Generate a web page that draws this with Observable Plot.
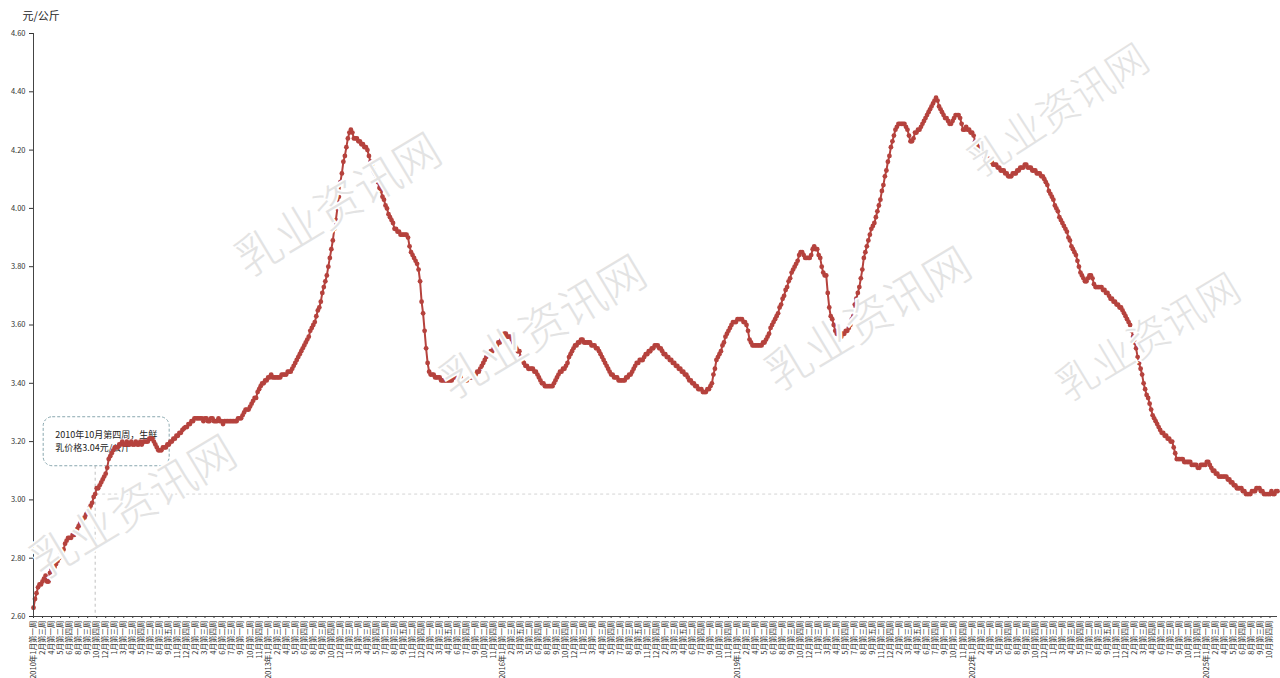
<!DOCTYPE html>
<html>
<head>
<meta charset="utf-8">
<script src="https://cdn.jsdelivr.net/npm/d3@7"></script>
<script src="https://cdn.jsdelivr.net/npm/@observablehq/plot@0.6"></script>
<style>
  html, body { margin: 0; padding: 0; background: #fff; }
  #wrap { position: relative; width: 1280px; height: 678px; overflow: hidden; }
  #wm { position: absolute; left: 0; top: 0; pointer-events: none; }
</style>
</head>
<body>
<div id="wrap"><div id="chart"></div></div>
<script>
// ---- data: weekly raw milk price (元/公斤) ----
const v2010 = [2.63,2.66,2.68,2.70,2.71,2.71,2.72,2.73,2.74,2.72, 2.72,2.75,2.76,2.77,2.77,2.78,2.79,2.80,2.81,2.82, 2.83,2.85,2.86,2.87,2.87,2.87,2.88,2.88,2.89,2.90, 2.91,2.92,2.93,2.935,2.94,2.95,2.96,2.97,2.98,2.99, 3.01,3.02,3.04,3.04,3.05,3.06,3.07,3.08,3.09,3.11, 3.14,3.15];
const v2011 = [3.16,3.17,3.18,3.18,3.18,3.19,3.19,3.20,3.19,3.19, 3.20,3.19,3.19,3.20,3.19,3.19,3.20,3.19,3.19,3.20, 3.19,3.20,3.20,3.20,3.20,3.21,3.21,3.21,3.20,3.19, 3.18,3.17,3.17,3.17,3.18,3.18,3.18,3.19,3.19,3.20, 3.20,3.21,3.21,3.22,3.22,3.23,3.23,3.24,3.245,3.25, 3.25,3.26];
const v2012 = [3.26,3.27,3.27,3.28,3.28,3.28,3.28,3.28,3.28,3.27, 3.28,3.28,3.27,3.27,3.28,3.28,3.27,3.27,3.27,3.28, 3.27,3.27,3.26,3.27,3.27,3.27,3.27,3.27,3.27,3.27, 3.27,3.27,3.28,3.28,3.28,3.29,3.30,3.31,3.31,3.31, 3.32,3.33,3.34,3.35,3.35,3.37,3.38,3.39,3.40,3.40, 3.41,3.41];
const v2013 = [3.42,3.42,3.43,3.42,3.42,3.42,3.42,3.42,3.42,3.43, 3.43,3.43,3.43,3.44,3.44,3.44,3.45,3.46,3.47,3.48, 3.49,3.50,3.51,3.52,3.53,3.54,3.55,3.56,3.58,3.59, 3.60,3.61,3.63,3.65,3.66,3.68,3.71,3.73,3.75,3.77, 3.80,3.83,3.86,3.89,3.93,3.96,4.00,4.04,4.09,4.12, 4.16,4.18];
const v2014 = [4.21,4.24,4.26,4.27,4.26,4.24,4.24,4.24,4.23,4.23, 4.22,4.22,4.21,4.21,4.20,4.18,4.16,4.15,4.13,4.12, 4.10,4.09,4.07,4.06,4.04,4.03,4.01,4.00,3.98,3.97, 3.96,3.95,3.93,3.93,3.92,3.92,3.91,3.91,3.91,3.91, 3.91,3.90,3.87,3.85,3.84,3.83,3.82,3.81,3.79,3.75, 3.68,3.64];
const v2015 = [3.58,3.52,3.47,3.44,3.43,3.43,3.43,3.42,3.42,3.42, 3.42,3.41,3.41,3.41,3.41,3.41,3.41,3.41,3.41,3.42, 3.42,3.42,3.42,3.42,3.42,3.41,3.41,3.41,3.41,3.42, 3.42,3.42,3.42,3.43,3.43,3.44,3.44,3.45,3.46,3.47, 3.48,3.49,3.50,3.50,3.51,3.51,3.52,3.53,3.53,3.54, 3.54,3.55];
const v2016 = [3.56,3.57,3.57,3.56,3.56,3.56,3.55,3.54,3.53,3.52, 3.51,3.51,3.49,3.48,3.47,3.46,3.46,3.45,3.45,3.45, 3.45,3.44,3.44,3.43,3.42,3.41,3.40,3.40,3.39,3.39, 3.39,3.39,3.39,3.39,3.40,3.41,3.42,3.43,3.44,3.44, 3.45,3.45,3.46,3.47,3.49,3.50,3.51,3.52,3.53,3.53, 3.54,3.54];
const v2017 = [3.55,3.55,3.54,3.54,3.54,3.54,3.54,3.53,3.53,3.53, 3.52,3.52,3.51,3.50,3.49,3.48,3.47,3.46,3.45,3.44, 3.43,3.43,3.42,3.42,3.42,3.41,3.41,3.41,3.41,3.41, 3.42,3.42,3.43,3.43,3.44,3.45,3.46,3.47,3.47,3.48, 3.48,3.48,3.49,3.50,3.50,3.51,3.51,3.52,3.52,3.53, 3.53,3.53];
const v2018 = [3.52,3.52,3.51,3.50,3.50,3.49,3.49,3.48,3.48,3.47, 3.47,3.46,3.46,3.45,3.45,3.44,3.44,3.43,3.43,3.42, 3.41,3.41,3.40,3.40,3.39,3.39,3.38,3.38,3.38,3.37, 3.37,3.37,3.38,3.38,3.39,3.40,3.43,3.45,3.48,3.49, 3.50,3.51,3.53,3.54,3.56,3.57,3.58,3.59,3.60,3.61, 3.61,3.61];
const v2019 = [3.62,3.62,3.62,3.62,3.61,3.61,3.60,3.58,3.55,3.54, 3.53,3.53,3.53,3.53,3.53,3.53,3.53,3.54,3.54,3.55, 3.56,3.57,3.59,3.60,3.61,3.62,3.63,3.64,3.66,3.67, 3.69,3.70,3.72,3.73,3.75,3.76,3.78,3.79,3.80,3.81, 3.82,3.84,3.85,3.85,3.84,3.83,3.83,3.83,3.83,3.84, 3.86,3.87];
const v2020 = [3.86,3.86,3.84,3.83,3.80,3.78,3.77,3.77,3.71,3.66, 3.63,3.62,3.60,3.58,3.57,3.57,3.56,3.56,3.57,3.57, 3.58,3.58,3.59,3.60,3.62,3.63,3.67,3.69,3.71,3.73, 3.76,3.79,3.83,3.85,3.87,3.89,3.91,3.93,3.94,3.95, 3.97,3.99,4.01,4.03,4.06,4.08,4.11,4.13,4.16,4.18, 4.21,4.23];
const v2021 = [4.25,4.27,4.28,4.29,4.29,4.29,4.29,4.29,4.28,4.27, 4.25,4.23,4.23,4.24,4.26,4.26,4.27,4.27,4.28,4.29, 4.30,4.31,4.32,4.33,4.34,4.35,4.36,4.37,4.38,4.37, 4.35,4.34,4.33,4.32,4.31,4.31,4.30,4.29,4.29,4.30, 4.31,4.32,4.32,4.32,4.31,4.29,4.27,4.27,4.28,4.27, 4.27,4.26];
const v2022 = [4.26,4.25,4.23,4.22,4.21,4.21,4.20,4.19,4.18,4.18, 4.17,4.17,4.16,4.16,4.15,4.15,4.15,4.14,4.14,4.13, 4.13,4.13,4.12,4.12,4.11,4.11,4.11,4.12,4.12,4.12, 4.13,4.13,4.14,4.14,4.14,4.15,4.15,4.14,4.14,4.14, 4.13,4.13,4.13,4.12,4.12,4.12,4.11,4.11,4.10,4.09, 4.08,4.06];
const v2023 = [4.05,4.04,4.03,4.01,4.00,3.99,3.97,3.96,3.95,3.94, 3.93,3.92,3.90,3.89,3.87,3.86,3.85,3.84,3.82,3.80, 3.78,3.77,3.76,3.75,3.75,3.76,3.77,3.77,3.76,3.74, 3.73,3.73,3.73,3.73,3.73,3.72,3.72,3.71,3.71,3.70, 3.69,3.69,3.68,3.68,3.67,3.67,3.66,3.66,3.65,3.64, 3.63,3.62];
const v2024 = [3.61,3.60,3.58,3.56,3.54,3.52,3.49,3.47,3.45,3.43, 3.40,3.38,3.36,3.35,3.33,3.31,3.29,3.28,3.27,3.26, 3.25,3.24,3.23,3.23,3.22,3.22,3.21,3.21,3.20,3.20, 3.18,3.16,3.14,3.14,3.14,3.14,3.14,3.13,3.13,3.13, 3.13,3.13,3.12,3.12,3.12,3.12,3.11,3.11,3.12,3.12, 3.12,3.12];
const v2025 = [3.13,3.13,3.12,3.11,3.10,3.10,3.09,3.09,3.08,3.08, 3.08,3.08,3.08,3.08,3.07,3.07,3.06,3.06,3.05,3.05, 3.04,3.04,3.04,3.04,3.03,3.03,3.02,3.02,3.02,3.02, 3.03,3.03,3.03,3.04,3.04,3.04,3.03,3.03,3.02,3.02, 3.02,3.02,3.02,3.03,3.02,3.02,3.03,3.03];

const years = [2010,2011,2012,2013,2014,2015,2016,2017,2018,2019,2020,2021,2022,2023,2024,2025];
const yearValues = [v2010,v2011,v2012,v2013,v2014,v2015,v2016,v2017,v2018,v2019,v2020,v2021,v2022,v2023,v2024,v2025];
const weekNames = ["一","二","三","四","五"];
const yTicks = [2.6,2.8,3.0,3.2,3.4,3.6,3.8,4.0,4.2,4.4,4.6];
const unitTitle = "元/公斤";
const annText = ["2010年10月第四周，生鲜", "乳价格3.04元/公斤"];
const annIndex = 42;      // 2010年10月第四周
const annValue = 3.04;
const refLevel = 3.02;    // dashed reference level
const tickEvery = 6;
const lineColor = "#b5423d";

// ---- build weekly table + week labels ----
const data = [];
const labels = [];
years.forEach((yr, yi) => {
  yearValues[yi].forEach((v, k) => {
    const d = new Date(yr, 0, 7 + 7 * k);
    const m = d.getMonth() + 1;
    const w = Math.min(5, Math.ceil(d.getDate() / 7));
    labels.push((k === 0 ? yr + "年" : "") + m + "月第" + weekNames[w - 1] + "周");
    data.push({i: data.length, v});
  });
});
const N = data.length;
const xTicks = d3.range(0, N, tickEvery);

function annotation(index, scales, values, dimensions) {
  const px = scales.x(annIndex), py = scales.y(annValue);
  const g = d3.create("svg:g");
  g.append("line")
    .attr("x1", px - 1).attr("x2", px - 1)
    .attr("y1", py - 22).attr("y2", scales.y(2.6))
    .attr("stroke", "#b0b0b0").attr("stroke-dasharray", "3,3").attr("stroke-width", 0.8);
  g.append("rect")
    .attr("x", px - 53).attr("y", py - 71).attr("width", 126).attr("height", 49)
    .attr("rx", 9).attr("fill", "none")
    .attr("stroke", "#7d9ea6").attr("stroke-width", 0.9).attr("stroke-dasharray", "3,2");
  annText.forEach((t, j) => {
    g.append("text")
      .attr("x", px - 41).attr("y", py - 50 + j * 13)
      .attr("text-anchor", "start")
      .attr("font-size", 9).attr("fill", "#222").text(t);
  });
  return g.node();
}

const chart = Plot.plot({
  width: 1280,
  height: 678,
  marginLeft: 33,
  marginRight: 3,
  marginTop: 33,
  marginBottom: 62,
  style: {fontFamily: "'Noto Sans CJK SC', 'Noto Sans', sans-serif", background: "#fff", color: "#333"},
  x: {type: "linear", domain: [0, N - 1], axis: null},
  y: {domain: [2.6, 4.6], axis: null},
  marks: [
    Plot.ruleY([refLevel], {x1: annIndex, x2: N - 1, stroke: "#c8c8c8", strokeDasharray: "3,3", strokeWidth: 0.8}),
    annotation,
    Plot.line(data, {x: "i", y: "v", stroke: lineColor, strokeWidth: 2}),
    Plot.dot(data, {x: "i", y: "v", r: 2.4, fill: lineColor, stroke: "none"}),
    Plot.axisY({ticks: yTicks, tickFormat: d3.format(".2f"), tickSize: 4, fontSize: 7.5, label: null, tickPadding: 4}),
    Plot.axisX({ticks: xTicks, tickFormat: i => labels[i], tickRotate: -90, tickSize: 2, fontSize: 7.5, label: null, tickPadding: 2}),
    Plot.ruleX([0], {stroke: "#444"}),
    Plot.ruleY([2.6], {stroke: "#444"}),
    Plot.text([unitTitle], {frameAnchor: "top-left", dx: -11, dy: -21, textAnchor: "start", fontSize: 11, fill: "#222"})
  ]
});
document.getElementById("chart").appendChild(chart);

// ---- watermark overlay ----
const wmText = "乳业资讯网";
const wmSpots = [
  {cx: 340, cy: 208, a: -31, s: 46},
  {cx: 545, cy: 330, a: -31, s: 46},
  {cx: 870, cy: 322, a: -31, s: 46},
  {cx: 1060, cy: 113, a: -33, s: 41},
  {cx: 1150, cy: 340, a: -31, s: 41},
  {cx: 135, cy: 510, a: -31, s: 46}
];
const wm = d3.select("#wrap").append("svg").attr("id", "wm").attr("width", 1280).attr("height", 678);
wm.selectAll("text").data(wmSpots).join("text")
  .attr("transform", d => `translate(${d.cx},${d.cy}) rotate(${d.a})`)
  .attr("text-anchor", "middle").attr("dominant-baseline", "middle")
  .attr("font-family", "'Noto Sans CJK SC', sans-serif")
  .attr("font-weight", 300)
  .attr("font-size", d => d.s)
  .attr("fill", "#e3e3e3").attr("stroke", "#fff").attr("stroke-width", 3.5)
  .attr("paint-order", "stroke")
  .text(wmText);
</script>
</body>
</html>
